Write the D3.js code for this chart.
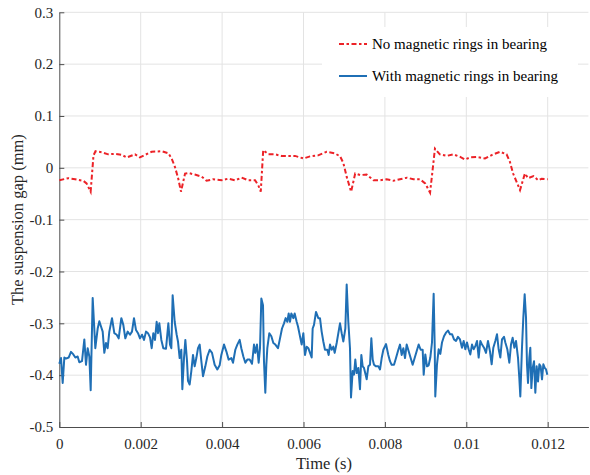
<!DOCTYPE html>
<html><head><meta charset="utf-8">
<script src="https://cdn.jsdelivr.net/npm/d3@7"></script>
<style>
body{margin:0;background:#fff}
svg{display:block}
svg text, svg .tick text{font-family:"Liberation Serif","Times New Roman",Times,serif !important}
</style>
</head><body><svg id="c" width="590" height="475"></svg>
<script>
const xTicks = [0, 0.002, 0.004, 0.006, 0.008, 0.01, 0.012];
const xTickLabels = ["0", "0.002", "0.004", "0.006", "0.008", "0.01", "0.012"];
const yTicks = [0.3, 0.2, 0.1, 0, -0.1, -0.2, -0.3, -0.4, -0.5];
const yTickLabels = ["0.3", "0.2", "0.1", "0", "-0.1", "-0.2", "-0.3", "-0.4", "-0.5"];
const xLabel = "Time (s)";
const yLabel = "The suspension gap (mm)";
const seriesNames = ["No magnetic rings in bearing", "With magnetic rings in bearing"];

const redTime = [
0, 0.00022, 0.00039, 0.00059, 0.00067, 0.00077, 0.00084, 0.00089, 0.00104, 0.00120,
0.00137, 0.00153, 0.00166, 0.00186, 0.00198, 0.00211, 0.00227, 0.00252, 0.00268, 0.00276,
0.00284, 0.00292, 0.00299, 0.00309, 0.00317, 0.00333, 0.00350, 0.00362, 0.00378, 0.00399,
0.00415, 0.00432, 0.00448, 0.00464, 0.00481, 0.00489, 0.00495, 0.00501, 0.00514, 0.00530,
0.00546, 0.00563, 0.00579, 0.00600, 0.00616, 0.00636, 0.00657, 0.00677, 0.00690, 0.00698,
0.00706, 0.00717, 0.00727, 0.00739, 0.00755, 0.00772, 0.00788, 0.00804, 0.00821, 0.00837,
0.00854, 0.00870, 0.00886, 0.00899, 0.00911, 0.00923, 0.00935, 0.00952, 0.00968, 0.00985,
0.00997, 0.01009, 0.01026, 0.01046, 0.01066, 0.01083, 0.01099, 0.01107, 0.01115, 0.01132,
0.01144, 0.01152, 0.01165, 0.01177, 0.01185, 0.01200];
const redGap = [
-0.024, -0.020, -0.022, -0.025, -0.030, -0.046, 0.024, 0.032, 0.030, 0.026,
0.027, 0.025, 0.020, 0.026, 0.020, 0.025, 0.031, 0.032, 0.028, 0.018,
0.002, -0.020, -0.046, -0.011, -0.010, -0.013, -0.017, -0.025, -0.022, -0.024,
-0.021, -0.024, -0.019, -0.024, -0.024, -0.034, -0.046, 0.034, 0.026, 0.026,
0.023, 0.023, 0.023, 0.018, 0.022, 0.024, 0.031, 0.028, 0.022, 0.009,
-0.017, -0.046, -0.011, -0.014, -0.013, -0.024, -0.024, -0.022, -0.025, -0.022,
-0.019, -0.022, -0.022, -0.030, -0.048, 0.037, 0.026, 0.023, 0.026, 0.021,
0.016, 0.020, 0.021, 0.018, 0.026, 0.031, 0.026, 0.012, -0.011, -0.043,
-0.011, -0.020, -0.016, -0.024, -0.021, -0.022];

const blueTime = [
0.000000, 0.000042, 0.000083, 0.000124, 0.000165, 0.000230, 0.000287, 0.000345, 0.000394, 0.000451,
0.000492, 0.000558, 0.000615, 0.000656, 0.000697, 0.000738, 0.000771, 0.000820, 0.000885, 0.000943,
0.000984, 0.001025, 0.001066, 0.001106, 0.001147, 0.001188, 0.001229, 0.001295, 0.001352, 0.001410,
0.001459, 0.001524, 0.001573, 0.001622, 0.001680, 0.001737, 0.001786, 0.001835, 0.001885, 0.001934,
0.001983, 0.002032, 0.002081, 0.002130, 0.002179, 0.002229, 0.002270, 0.002310, 0.002351, 0.002392,
0.002425, 0.002458, 0.002507, 0.002556, 0.002622, 0.002679, 0.002720, 0.002753, 0.002785, 0.002835,
0.002884,
0.002916, 0.002957, 0.002998, 0.003023, 0.003064, 0.003097, 0.003138, 0.003162, 0.003203, 0.003244,
0.003285, 0.003326, 0.003367, 0.003408, 0.003449, 0.003490, 0.003531, 0.003588, 0.003637, 0.003695,
0.003752, 0.003817, 0.003883, 0.003940, 0.003981, 0.004047, 0.004104, 0.004161, 0.004227, 0.004268,
0.004325, 0.004374, 0.004432, 0.004472, 0.004522, 0.004571, 0.004620, 0.004677, 0.004735, 0.004784,
0.004816, 0.004857, 0.004898, 0.004931, 0.004964, 0.005005, 0.005029, 0.005062, 0.005087, 0.005111,
0.005160, 0.005210, 0.005259, 0.005308, 0.005373, 0.005423, 0.005472, 0.005521, 0.005562, 0.005603,
0.005636, 0.005668, 0.005701, 0.005750, 0.005783, 0.005832, 0.005865,
0.005955, 0.005996, 0.006037, 0.006078, 0.006119, 0.006160, 0.006201, 0.006225, 0.006258, 0.006307,
0.006364, 0.006405, 0.006446, 0.006487, 0.006528, 0.006586, 0.006618, 0.006651, 0.006692, 0.006733,
0.006766, 0.006815, 0.006856, 0.006897, 0.006938, 0.006979, 0.007028, 0.007061, 0.007101, 0.007142,
0.007167, 0.007208, 0.007241, 0.007273, 0.007306, 0.007347, 0.007388, 0.007421, 0.007454, 0.007486,
0.007527, 0.007552, 0.007593, 0.007634, 0.007667, 0.007700, 0.007732, 0.007781, 0.007839, 0.007880,
0.007921, 0.007962, 0.008027, 0.008084, 0.008125, 0.008166, 0.008224, 0.008273, 0.008330, 0.008371,
0.008412, 0.008453, 0.008494, 0.008535, 0.008584, 0.008633, 0.008682, 0.008731, 0.008780, 0.008830,
0.008879, 0.008928,
0.008953, 0.008993, 0.009034, 0.009075, 0.009116, 0.009157, 0.009198, 0.009223, 0.009238, 0.009280,
0.009321, 0.009362, 0.009403, 0.009452, 0.009501, 0.009550, 0.009600, 0.009649, 0.009698, 0.009747,
0.009796, 0.009845, 0.009894, 0.009935, 0.009976, 0.010017, 0.010058, 0.010099, 0.010140, 0.010181,
0.010222, 0.010263, 0.010304, 0.010345, 0.010386, 0.010435, 0.010484, 0.010533, 0.010582, 0.010623,
0.010664, 0.010713, 0.010754, 0.010795, 0.010836, 0.010877, 0.010926, 0.010959, 0.011008, 0.011057,
0.011098, 0.011139, 0.011180, 0.011221, 0.011270, 0.011302, 0.011327, 0.011368, 0.011401, 0.011434,
0.011467, 0.011491, 0.011516, 0.011549, 0.011573, 0.011598, 0.011631, 0.011664, 0.011696, 0.011729,
0.011762, 0.011795, 0.011827, 0.011860, 0.011893, 0.011926, 0.011959, 0.011991];
const blueGap = [
-0.378, -0.367, -0.415, -0.366, -0.368, -0.366, -0.355, -0.360, -0.366, -0.364,
-0.375, -0.373, -0.331, -0.380, -0.348, -0.364, -0.429, -0.251, -0.348, -0.310,
-0.296, -0.306, -0.316, -0.357, -0.338, -0.348, -0.316, -0.290, -0.319, -0.322,
-0.329, -0.290, -0.303, -0.329, -0.316, -0.322, -0.316, -0.290, -0.313, -0.319,
-0.329, -0.322, -0.332, -0.316, -0.319, -0.327, -0.348, -0.319, -0.332, -0.297,
-0.319, -0.300, -0.332, -0.348, -0.349, -0.300, -0.341, -0.348, -0.246, -0.297,
-0.322,
-0.335, -0.367, -0.351, -0.427, -0.367, -0.332, -0.373, -0.411, -0.418, -0.392,
-0.361, -0.383, -0.367, -0.348, -0.341, -0.373, -0.402, -0.383, -0.364, -0.351,
-0.357, -0.380, -0.389, -0.381, -0.361, -0.341, -0.354, -0.370, -0.367, -0.376,
-0.351, -0.341, -0.332, -0.348, -0.364, -0.376, -0.370, -0.370, -0.378, -0.341,
-0.357, -0.341, -0.376, -0.348, -0.252, -0.265, -0.373, -0.434, -0.380, -0.348,
-0.319, -0.325, -0.338, -0.341, -0.348, -0.329, -0.310, -0.300, -0.290, -0.297,
-0.281, -0.297, -0.281, -0.290, -0.281, -0.297, -0.306,
-0.341, -0.319, -0.361, -0.345, -0.348, -0.357, -0.366, -0.310, -0.303, -0.278,
-0.290, -0.290, -0.316, -0.335, -0.351, -0.351, -0.361, -0.341, -0.351, -0.345,
-0.357, -0.338, -0.319, -0.300, -0.319, -0.335, -0.310, -0.225, -0.297, -0.348,
-0.443, -0.392, -0.399, -0.370, -0.396, -0.386, -0.427, -0.361, -0.383, -0.386,
-0.399, -0.408, -0.383, -0.380, -0.329, -0.370, -0.380, -0.383, -0.383, -0.389,
-0.367, -0.351, -0.340, -0.361, -0.373, -0.380, -0.380, -0.367, -0.351, -0.341,
-0.361, -0.348, -0.367, -0.341, -0.354, -0.367, -0.380, -0.367, -0.354, -0.341,
-0.351, -0.351,
-0.399, -0.360, -0.383, -0.381, -0.366, -0.337, -0.243, -0.341, -0.441, -0.379,
-0.350, -0.359, -0.337, -0.325, -0.318, -0.314, -0.321, -0.321, -0.331, -0.334,
-0.326, -0.331, -0.347, -0.334, -0.350, -0.337, -0.350, -0.360, -0.341, -0.350,
-0.344, -0.334, -0.366, -0.334, -0.341, -0.347, -0.357, -0.334, -0.354, -0.379,
-0.347, -0.334, -0.321, -0.350, -0.366, -0.331, -0.326, -0.337, -0.350, -0.376,
-0.341, -0.328, -0.347, -0.334, -0.366, -0.405, -0.441, -0.347, -0.289, -0.244,
-0.289, -0.379, -0.415, -0.366, -0.347, -0.425, -0.386, -0.373, -0.434, -0.383,
-0.412, -0.379, -0.383, -0.408, -0.379, -0.386, -0.389, -0.399];

const FONT = "Liberation Serif, Times New Roman, Times, serif";
const svg = d3.select("#c");
const m = {l: 59.3, r: 588.4, t: 12.3, b: 427};
const x = d3.scaleLinear().domain([0, 0.013]).range([m.l, m.r]);
const y = d3.scaleLinear().domain([-0.5, 0.3]).range([m.b, m.t]);

// grid
const grid = svg.append("g").attr("stroke", "#e3e3e3").attr("stroke-width", 1);
grid.selectAll("line.v").data(xTicks.slice(1)).join("line")
  .attr("x1", d => x(d)).attr("x2", d => x(d)).attr("y1", m.t).attr("y2", m.b);
grid.selectAll("line.h").data(yTicks.slice(0, -1)).join("line")
  .attr("x1", m.l).attr("x2", m.r).attr("y1", d => y(d)).attr("y2", d => y(d));

// axes
const xAxis = d3.axisBottom(x).tickValues(xTicks)
  .tickFormat((d, i) => xTickLabels[i]).tickSizeInner(-5).tickSizeOuter(0).tickPadding(11);
const yAxis = d3.axisLeft(y).tickValues(yTicks)
  .tickFormat((d, i) => yTickLabels[i]).tickSizeInner(-5).tickSizeOuter(0).tickPadding(6);
const gx = svg.append("g").attr("transform", `translate(0,${m.b})`).call(xAxis);
const gy = svg.append("g").attr("transform", `translate(${m.l},0)`).call(yAxis);
[gx, gy].forEach(g => {
  g.attr("font-family", FONT).attr("font-size", 15);
  g.select(".domain").attr("stroke", "#4d4d4d").attr("stroke-width", 1);
  g.selectAll(".tick line").attr("stroke", "#4d4d4d").attr("stroke-width", 1);
  g.selectAll(".tick text").attr("fill", "#262626");
});

// axis labels
svg.append("text").attr("x", 324).attr("y", 469).attr("text-anchor", "middle")
  .attr("font-family", FONT).attr("font-size", 16.5).attr("fill", "#262626").text(xLabel);
svg.append("text").attr("transform", `translate(23,${(m.t + m.b) / 2}) rotate(-90)`)
  .attr("text-anchor", "middle").attr("font-family", FONT).attr("font-size", 16.5)
  .attr("fill", "#262626").text(yLabel);

// lines
const red = redTime.map((t, i) => [t, redGap[i]]);
const blue = blueTime.map((t, i) => [t, blueGap[i]]);
const line = d3.line().x(d => x(d[0])).y(d => y(d[1]));
svg.append("path").datum(blue).attr("d", line).attr("fill", "none")
  .attr("stroke", "#1f6fb5").attr("stroke-width", 2).attr("stroke-linejoin", "round");
svg.append("path").datum(red).attr("d", line).attr("fill", "none")
  .attr("stroke", "#ec2227").attr("stroke-width", 2).attr("stroke-dasharray", "5,2.5,2.5,2.5");

// legend
const lg = svg.append("g");
lg.append("rect").attr("x", 322).attr("y", 27).attr("width", 256).attr("height", 70).attr("fill", "#fff");
const items = [{name: seriesNames[0], color: "#ec2227", dash: "5,2.5,2.5,2.5"},
               {name: seriesNames[1], color: "#1f6fb5", dash: null}];
items.forEach((it, i) => {
  const yy = 44 + i * 32;
  lg.append("line").attr("x1", 339).attr("x2", 367).attr("y1", yy).attr("y2", yy)
    .attr("stroke", it.color).attr("stroke-width", 2).attr("stroke-dasharray", it.dash);
  lg.append("text").attr("x", 372).attr("y", yy + 5).attr("font-family", FONT)
    .attr("font-size", 15).attr("fill", "#000").text(it.name);
});
</script></body></html>
